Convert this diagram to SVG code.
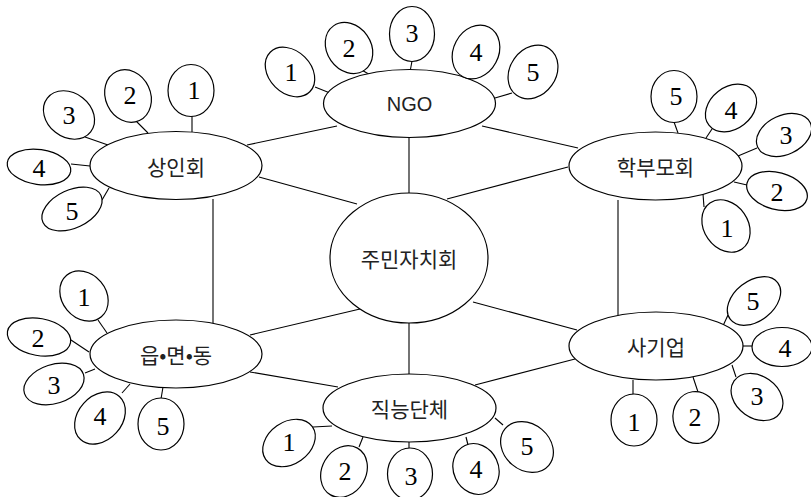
<svg xmlns="http://www.w3.org/2000/svg" width="811" height="497" viewBox="0 0 811 497">
  <style>
    .shape { fill: #ffffff; stroke: #000000; stroke-width: 1.2; }
    .link { stroke: #000000; stroke-width: 1.1; fill: none; }
    .hub { font-family: "Noto Sans CJK KR", "Liberation Sans", sans-serif; font-size: 21px; fill: #222; text-anchor: middle; dominant-baseline: central; }
    .num { font-family: "Liberation Serif", "Times New Roman", serif; font-size: 26px; fill: #000; text-anchor: middle; dominant-baseline: central; }
  </style>

  <!-- connectors -->
  <g id="connectors">
    <!-- between hubs -->
    <line class="link" x1="409" y1="137" x2="409" y2="193"/>
    <line class="link" x1="247" y1="145" x2="337" y2="126"/>
    <line class="link" x1="482" y1="126" x2="578" y2="148"/>
    <line class="link" x1="259" y1="177" x2="357" y2="204"/>
    <line class="link" x1="568" y1="167" x2="447" y2="199"/>
    <line class="link" x1="213" y1="199" x2="213" y2="323"/>
    <line class="link" x1="618" y1="200" x2="618" y2="315"/>
    <line class="link" x1="250" y1="335" x2="360" y2="309"/>
    <line class="link" x1="473" y1="302" x2="577" y2="330"/>
    <line class="link" x1="250" y1="372" x2="338" y2="387"/>
    <line class="link" x1="475" y1="385" x2="575" y2="359"/>
    <line class="link" x1="409" y1="323" x2="409" y2="374"/>
    <!-- NGO branches -->
    <line class="link" x1="315" y1="87" x2="330" y2="93"/>
    <line class="link" x1="360" y1="69" x2="372" y2="76"/>
    <line class="link" x1="412" y1="61" x2="410" y2="72"/>
    <line class="link" x1="470" y1="70" x2="462" y2="79"/>
    <line class="link" x1="512" y1="93" x2="495" y2="98"/>
    <!-- 상인회 branches -->
    <line class="link" x1="192" y1="116" x2="192" y2="132"/>
    <line class="link" x1="135" y1="120" x2="148" y2="133"/>
    <line class="link" x1="85" y1="137" x2="108" y2="145"/>
    <line class="link" x1="71" y1="164" x2="90" y2="166"/>
    <line class="link" x1="102" y1="200" x2="109" y2="188"/>
    <!-- 학부모회 branches -->
    <line class="link" x1="674" y1="122" x2="678" y2="133"/>
    <line class="link" x1="712" y1="129" x2="706" y2="138"/>
    <line class="link" x1="757" y1="148" x2="738" y2="156"/>
    <line class="link" x1="747" y1="185" x2="734" y2="182"/>
    <line class="link" x1="704" y1="207" x2="703" y2="194"/>
    <!-- 읍•면•동 branches -->
    <line class="link" x1="98" y1="320" x2="107" y2="333"/>
    <line class="link" x1="71" y1="340" x2="89" y2="352"/>
    <line class="link" x1="85" y1="373" x2="95" y2="369"/>
    <line class="link" x1="122" y1="393" x2="130" y2="384"/>
    <line class="link" x1="161" y1="399" x2="163" y2="387"/>
    <!-- 직능단체 branches -->
    <line class="link" x1="313" y1="427" x2="332" y2="426"/>
    <line class="link" x1="359" y1="447" x2="363" y2="437"/>
    <line class="link" x1="409" y1="448" x2="409" y2="442"/>
    <line class="link" x1="468" y1="445" x2="466" y2="437"/>
    <line class="link" x1="503" y1="425" x2="495" y2="418"/>
    <!-- 사기업 branches -->
    <line class="link" x1="728" y1="315" x2="722" y2="328"/>
    <line class="link" x1="743" y1="346" x2="753" y2="346"/>
    <line class="link" x1="732" y1="365" x2="736" y2="377"/>
    <line class="link" x1="693" y1="377" x2="698" y2="392"/>
    <line class="link" x1="633" y1="380" x2="633" y2="395"/>
  </g>

  <!-- central node -->
  <g id="center">
    <ellipse class="shape" cx="409" cy="258" rx="79" ry="65"/>
    <text class="hub" x="409" y="258">주민자치회</text>
  </g>

  <!-- hub nodes -->
  <g id="ngo">
    <ellipse class="shape" cx="409.5" cy="103.5" rx="86" ry="34"/>
    <text class="hub" x="409.5" y="103.5" style="font-family:'Liberation Sans',sans-serif;font-size:20px">NGO</text>
  </g>
  <g id="merchants">
    <ellipse class="shape" cx="176" cy="165.5" rx="86" ry="34"/>
    <text class="hub" x="176" y="165.5">상인회</text>
  </g>
  <g id="parents">
    <ellipse class="shape" cx="655.5" cy="166" rx="86.5" ry="34"/>
    <text class="hub" x="655.5" y="166">학부모회</text>
  </g>
  <g id="district">
    <ellipse class="shape" cx="176" cy="354" rx="86" ry="34"/>
    <text class="hub" x="176" y="354">읍•면•동</text>
  </g>
  <g id="enterprise">
    <ellipse class="shape" cx="656" cy="346" rx="87" ry="34"/>
    <text class="hub" x="656" y="346">사기업</text>
  </g>
  <g id="vocational">
    <ellipse class="shape" cx="409.5" cy="408" rx="86.5" ry="34"/>
    <text class="hub" x="409.5" y="408">직능단체</text>
  </g>

  <!-- NGO satellites -->
  <g id="ngo-1"><ellipse class="shape" cx="290" cy="72" rx="28" ry="21" transform="rotate(45 290 72)"/><text class="num" x="291" y="72">1</text></g>
  <g id="ngo-2"><ellipse class="shape" cx="349" cy="48" rx="27" ry="22" transform="rotate(55 349 48)"/><text class="num" x="349" y="48">2</text></g>
  <g id="ngo-3"><ellipse class="shape" cx="412" cy="34" rx="22.5" ry="27.5"/><text class="num" x="412" y="33">3</text></g>
  <g id="ngo-4"><ellipse class="shape" cx="476" cy="52" rx="28" ry="22.5" transform="rotate(-62 476 52)"/><text class="num" x="476" y="52">4</text></g>
  <g id="ngo-5"><ellipse class="shape" cx="533" cy="72" rx="28.5" ry="23" transform="rotate(-55 533 72)"/><text class="num" x="533" y="72">5</text></g>

  <!-- 상인회 satellites -->
  <g id="merchants-1"><ellipse class="shape" cx="191" cy="90.5" rx="23" ry="26"/><text class="num" x="194" y="90">1</text></g>
  <g id="merchants-2"><ellipse class="shape" cx="128" cy="96" rx="27" ry="22.5" transform="rotate(65 128 96)"/><text class="num" x="130" y="95">2</text></g>
  <g id="merchants-3"><ellipse class="shape" cx="69" cy="115" rx="27.5" ry="22" transform="rotate(38 69 115)"/><text class="num" x="69" y="115">3</text></g>
  <g id="merchants-4"><ellipse class="shape" cx="39" cy="167" rx="32" ry="17.5" transform="rotate(8 39 167)"/><text class="num" x="39" y="168">4</text></g>
  <g id="merchants-5"><ellipse class="shape" cx="72" cy="209" rx="32" ry="19" transform="rotate(-25 72 209)"/><text class="num" x="72" y="211">5</text></g>

  <!-- 학부모회 satellites -->
  <g id="parents-5"><ellipse class="shape" cx="674" cy="96.5" rx="23" ry="26"/><text class="num" x="676" y="96">5</text></g>
  <g id="parents-4"><ellipse class="shape" cx="731" cy="108" rx="28" ry="21" transform="rotate(-38 731 108)"/><text class="num" x="731" y="110">4</text></g>
  <g id="parents-3"><ellipse class="shape" cx="784" cy="135" rx="29" ry="19.5" transform="rotate(-25 784 135)"/><text class="num" x="786" y="135">3</text></g>
  <g id="parents-2"><ellipse class="shape" cx="777" cy="191" rx="31" ry="18.5" transform="rotate(15 777 191)"/><text class="num" x="777" y="192">2</text></g>
  <g id="parents-1"><ellipse class="shape" cx="726" cy="226" rx="28" ry="22" transform="rotate(55 726 226)"/><text class="num" x="727" y="228">1</text></g>

  <!-- 읍•면•동 satellites -->
  <g id="district-1"><ellipse class="shape" cx="84" cy="296" rx="27" ry="22" transform="rotate(50 84 296)"/><text class="num" x="84" y="297">1</text></g>
  <g id="district-2"><ellipse class="shape" cx="39" cy="337" rx="32" ry="18.5" transform="rotate(10 39 337)"/><text class="num" x="38" y="338">2</text></g>
  <g id="district-3"><ellipse class="shape" cx="54" cy="384" rx="31" ry="19.5" transform="rotate(-18 54 384)"/><text class="num" x="54" y="385">3</text></g>
  <g id="district-4"><ellipse class="shape" cx="100" cy="418" rx="29" ry="22" transform="rotate(-48 100 418)"/><text class="num" x="100" y="416">4</text></g>
  <g id="district-5"><ellipse class="shape" cx="161" cy="424" rx="23" ry="26"/><text class="num" x="163" y="426">5</text></g>

  <!-- 직능단체 satellites -->
  <g id="vocational-1"><ellipse class="shape" cx="289" cy="443" rx="28.5" ry="21" transform="rotate(-35 289 443)"/><text class="num" x="289" y="442">1</text></g>
  <g id="vocational-2"><ellipse class="shape" cx="344" cy="471.5" rx="27" ry="22" transform="rotate(-60 344 471.5)"/><text class="num" x="345" y="471">2</text></g>
  <g id="vocational-3"><ellipse class="shape" cx="410" cy="474" rx="22.5" ry="26"/><text class="num" x="411" y="476">3</text></g>
  <g id="vocational-4"><ellipse class="shape" cx="476" cy="469" rx="26" ry="22.5" transform="rotate(65 476 469)"/><text class="num" x="476" y="469">4</text></g>
  <g id="vocational-5"><ellipse class="shape" cx="527" cy="447" rx="28.5" ry="23" transform="rotate(40 527 447)"/><text class="num" x="527" y="446">5</text></g>

  <!-- 사기업 satellites -->
  <g id="enterprise-5"><ellipse class="shape" cx="754" cy="301" rx="30" ry="20" transform="rotate(-38 754 301)"/><text class="num" x="753" y="301">5</text></g>
  <g id="enterprise-4"><ellipse class="shape" cx="782" cy="347" rx="30" ry="19.5"/><text class="num" x="785" y="348">4</text></g>
  <g id="enterprise-3"><ellipse class="shape" cx="757" cy="397" rx="28" ry="21" transform="rotate(35 757 397)"/><text class="num" x="757" y="396">3</text></g>
  <g id="enterprise-2"><ellipse class="shape" cx="696" cy="417.5" rx="23" ry="26" transform="rotate(-8 696 417.5)"/><text class="num" x="695" y="417">2</text></g>
  <g id="enterprise-1"><ellipse class="shape" cx="634" cy="420" rx="23" ry="26"/><text class="num" x="634" y="422">1</text></g>
</svg>
